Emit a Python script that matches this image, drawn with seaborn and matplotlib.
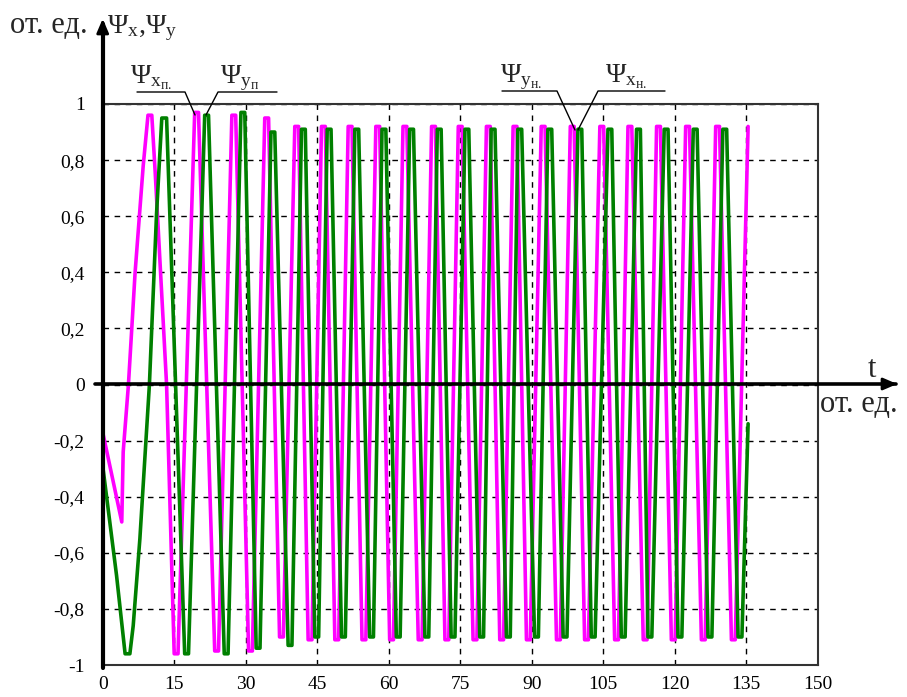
import matplotlib
matplotlib.use("Agg")
import matplotlib.pyplot as plt
from matplotlib.lines import Line2D
from matplotlib.patches import FancyArrowPatch
import pandas as pd
import seaborn as sns

# ---- data: (t, value) points of each curve ----
psi_x_points = [
    (0, -0.17), (4.0, -0.49), (4.3, -0.24), (5.4, 0.0), (6.8, 0.40), (8.5, 0.78), (9.5, 0.96), (10.3, 0.96),
    (11.0, 0.76), (13.4, 0.0),
    (15.0, -0.96), (15.8, -0.96), (19.3, 0.97), (20.1, 0.97), (23.5, -0.95), (24.3, -0.95), (27.1, 0.96), (27.9, 0.96),
    (30.6, -0.95), (31.4, -0.95), (34.0, 0.95), (34.8, 0.95), (37.1, -0.90), (37.9, -0.90), (40.3, 0.92), (41.1, 0.92),
    (43.1, -0.91), (43.9, -0.91), (45.9, 0.92), (46.7, 0.92), (48.7, -0.91), (49.5, -0.91), (51.5, 0.92), (52.3, 0.92),
    (54.4, -0.91), (55.2, -0.91), (57.3, 0.92), (58.1, 0.92), (60.2, -0.91), (61.0, -0.91), (63.0, 0.92), (63.8, 0.92),
    (66.2, -0.91), (67.0, -0.91), (69.0, 0.92), (69.8, 0.92), (71.8, -0.91), (72.6, -0.91), (74.6, 0.92), (75.4, 0.92),
    (77.7, -0.91), (78.5, -0.91), (80.5, 0.92), (81.3, 0.92), (83.3, -0.91), (84.1, -0.91), (86.1, 0.92), (86.9, 0.92),
    (88.9, -0.91), (89.7, -0.91), (92.0, 0.92), (92.8, 0.92), (95.2, -0.91), (96.0, -0.91), (98.1, 0.92), (98.9, 0.92),
    (101.1, -0.91), (101.9, -0.91), (104.3, 0.92), (105.1, 0.92), (107.4, -0.91), (108.2, -0.91), (110.2, 0.92),
    (111.0, 0.92), (113.4, -0.91), (114.2, -0.91), (116.2, 0.92), (117.0, 0.92), (119.3, -0.91), (120.1, -0.91),
    (122.3, 0.92), (123.1, 0.92), (125.6, -0.91), (126.4, -0.91), (128.6, 0.92), (129.4, 0.92), (131.9, -0.91),
    (132.7, -0.91), (135.4, 0.92),
]
psi_y_points = [
    (0, -0.29), (2.9, -0.68), (4.7, -0.96), (5.7, -0.96), (6.4, -0.86), (7.8, -0.55), (9.8, 0.0), (11.3, 0.61),
    (12.4, 0.95), (13.4, 0.95),
    (17.2, -0.96), (18.0, -0.96), (21.4, 0.96), (22.2, 0.96), (25.5, -0.96), (26.3, -0.96), (29.0, 0.97), (29.8, 0.97),
    (32.2, -0.94), (33.0, -0.94), (35.3, 0.90), (36.1, 0.90), (38.9, -0.93), (39.7, -0.93), (41.7, 0.91), (42.5, 0.91),
    (44.5, -0.90), (45.3, -0.90), (47.1, 0.91), (47.9, 0.91), (50.1, -0.90), (50.9, -0.90), (52.9, 0.91), (53.7, 0.91),
    (56.0, -0.90), (56.8, -0.90), (58.6, 0.91), (59.4, 0.91), (61.6, -0.90), (62.4, -0.90), (64.4, 0.91), (65.2, 0.91),
    (67.6, -0.90), (68.4, -0.90), (70.2, 0.91), (71.0, 0.91), (73.1, -0.90), (73.9, -0.90), (76.0, 0.91), (76.8, 0.91),
    (79.1, -0.90), (79.9, -0.90), (81.5, 0.91), (82.3, 0.91), (84.7, -0.90), (85.5, -0.90), (87.1, 0.91), (87.9, 0.91),
    (90.6, -0.90), (91.4, -0.90), (93.4, 0.91), (94.2, 0.91), (96.6, -0.90), (97.4, -0.90), (99.7, 0.91), (100.5, 0.91),
    (102.5, -0.90), (103.3, -0.90), (106.0, 0.91), (106.8, 0.91), (108.8, -0.90), (109.6, -0.90), (112.0, 0.91),
    (112.8, 0.91), (114.4, -0.90), (115.2, -0.90), (117.8, 0.91), (118.6, 0.91), (120.7, -0.90), (121.5, -0.90),
    (123.9, 0.91), (124.7, 0.91), (127.0, -0.90), (127.8, -0.90), (130.1, 0.91), (130.9, 0.91), (133.3, -0.90),
    (134.1, -0.90), (135.4, -0.14),
]

x_ticks = [0, 15, 30, 45, 60, 75, 90, 105, 120, 135, 150]
y_ticks = [-1, -0.8, -0.6, -0.4, -0.2, 0, 0.2, 0.4, 0.6, 0.8, 1]
y_tick_labels = ["-1", "-0,8", "-0,6", "-0,4", "-0,2", "0", "0,2", "0,4", "0,6", "0,8", "1"]

sns.set_theme(style="white")
plt.rcParams["font.family"] = ["Liberation Serif", "DejaVu Serif"]
plt.rcParams["mathtext.fontset"] = "custom"
plt.rcParams["mathtext.rm"] = "Liberation Serif"
plt.rcParams["mathtext.it"] = "Liberation Serif"

W, H = 907, 697
fig = plt.figure(figsize=(W / 100, H / 100), dpi=100)
fig.patch.set_facecolor("white")


def px(x, y):
    return (x / W, 1 - y / H)


L, R, T, B = 102.7, 817.7, 104, 665
ax = fig.add_axes([L / W, 1 - B / H, (R - L) / W, (B - T) / H])
ax.set_facecolor("white")

df_x = pd.DataFrame(psi_x_points, columns=["t", "v"])
df_y = pd.DataFrame(psi_y_points, columns=["t", "v"])
sns.lineplot(data=df_x, x="t", y="v", ax=ax, color="#ff00ff", lw=2.6, sort=False, estimator=None, zorder=3)
sns.lineplot(data=df_y, x="t", y="v", ax=ax, color="#008000", lw=2.6, sort=False, estimator=None, zorder=4)

ax.set_xlim(0, 150)
ax.set_ylim(-1, 1)
ax.set_xticks(x_ticks)
ax.set_xticklabels([str(v) for v in x_ticks])
ax.set_yticks(y_ticks)
ax.set_yticklabels(y_tick_labels)
ax.set_xlabel("")
ax.set_ylabel("")
ax.grid(True, color="black", ls=(0, (4, 4)), lw=1.0)
for gl in ax.get_xgridlines() + ax.get_ygridlines():
    gl.set_zorder(5)
ax.tick_params(axis="both", length=0, labelsize=14, colors="black")
ax.tick_params(axis="y", pad=13)
ax.tick_params(axis="x", pad=8)
for s in ["top", "right", "bottom"]:
    ax.spines[s].set_color("#333333")
    ax.spines[s].set_linewidth(1.5)
ax.spines["left"].set_visible(False)

# axes with arrows
fig.add_artist(Line2D([px(95, 0)[0], px(896, 0)[0]], [px(0, 384)[1]] * 2, color="black", lw=2.6, zorder=10))
fig.patches.append(FancyArrowPatch(px(880, 384), px(900, 384), transform=fig.transFigure,
                                   arrowstyle="-|>,head_length=0.7,head_width=0.3",
                                   color="black", lw=2.0, mutation_scale=12, figure=fig))
fig.add_artist(Line2D([px(L, 0)[0]] * 2, [px(0, 668)[1], px(0, 24)[1]], color="black", lw=3, zorder=10))
fig.patches.append(FancyArrowPatch(px(L, 40), px(L, 16), transform=fig.transFigure,
                                   arrowstyle="-|>,head_length=0.7,head_width=0.3",
                                   color="black", lw=2.0, mutation_scale=12, figure=fig))

# header texts
fs = 20
fig.text(*px(10, 33), "от. ед.", fontsize=22, ha="left", va="baseline")
fig.text(*px(107, 33), r"$\mathrm{Ψ_x{,}Ψ_y}$", fontsize=fs, ha="left", va="baseline")
fig.text(*px(868, 377), "t", fontsize=22, ha="left", va="baseline")
fig.text(*px(820, 412), "от. ед.", fontsize=22, ha="left", va="baseline")

# curve labels
fig.text(*px(130, 83), r"$\mathrm{Ψ_{x_{п.}}}$", fontsize=fs, ha="left", va="baseline")
fig.text(*px(220, 83), r"$\mathrm{Ψ_{y_{п}}}$", fontsize=fs, ha="left", va="baseline")
fig.text(*px(500, 82), r"$\mathrm{Ψ_{y_{н.}}}$", fontsize=fs, ha="left", va="baseline")
fig.text(*px(605, 82), r"$\mathrm{Ψ_{x_{н.}}}$", fontsize=fs, ha="left", va="baseline")

leaders = [
    [(137, 92), (185, 92), (195, 115)],
    [(277, 92), (218, 92), (206, 115)],
    [(502, 91), (557, 91), (575, 130)],
    [(665, 91), (598, 91), (578, 130)],
]
for pts in leaders:
    xs = [px(x, y)[0] for x, y in pts]
    ys = [px(x, y)[1] for x, y in pts]
    fig.add_artist(Line2D(xs, ys, color="black", lw=1.0, zorder=10))

fig.savefig("out.png", dpi=100, facecolor="white")
